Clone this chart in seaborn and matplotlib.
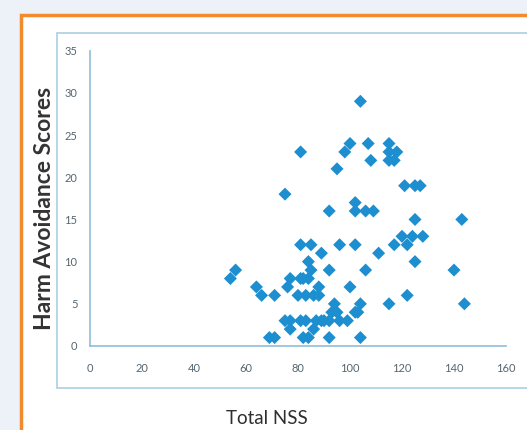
import seaborn as sns
import matplotlib.pyplot as plt
import pandas as pd
from matplotlib.patches import Rectangle

# data
total_nss = [54, 56, 64, 66, 71, 69, 71, 75, 76, 77, 75, 77, 77, 81, 81, 85, 80, 83,
             81, 84, 81, 82, 84, 84, 85, 86, 88, 88, 86, 87, 89, 90, 92, 89, 92, 92,
             92, 93, 94, 95, 96, 95, 96, 98, 100, 99, 100, 104, 107, 108, 102, 102,
             106, 109, 102, 111, 106, 104, 103, 102, 104, 115, 115, 115, 118, 115,
             117, 121, 125, 127, 125, 120, 124, 128, 117, 122, 125, 122, 140, 143,
             144, 82, 83]
harm_avoid = [8, 9, 7, 6, 6, 1, 1, 18, 7, 8, 3, 3, 2, 23, 12, 12, 6, 6,
              8, 8, 3, 1, 1, 10, 9, 6, 7, 6, 2, 3, 3, 3, 1, 11, 9, 16,
              3, 4, 5, 4, 3, 21, 12, 23, 24, 3, 7, 29, 24, 22, 17, 16,
              16, 16, 12, 11, 9, 5, 4, 4, 1, 5, 24, 23, 23, 22,
              22, 19, 19, 19, 15, 13, 13, 13, 12, 12, 10, 6, 9, 15,
              5, 8, 3]
x_ticks = [0, 20, 40, 60, 80, 100, 120, 140, 160]
y_ticks = [0, 5, 10, 15, 20, 25, 30, 35]

df = pd.DataFrame({"Total NSS": total_nss, "Harm Avoidance Scores": harm_avoid})

sns.set_style("white")
plt.rcParams["font.family"] = ["Lato", "DejaVu Sans"]

W, H = 527, 430
fig = plt.figure(figsize=(W / 100, H / 100), dpi=100, facecolor="#edf1f8")

# orange frame, white panel, light blue chart border
fig.patches.append(Rectangle((21 / W, -0.1), 1.2, 1 - 15 / H + 0.1, transform=fig.transFigure,
                             facecolor="white", edgecolor="#f28a2e", linewidth=2.5, zorder=-2))
fig.patches.append(Rectangle((57 / W, 1 - 388 / H), 1.2, (388 - 33) / H, transform=fig.transFigure,
                             facecolor="white", edgecolor="#a9cfe2", linewidth=1.2, zorder=-1))

ax = fig.add_axes([90 / W, 1 - 346 / H, (506 - 90) / W, (346 - 50.7) / H])
ax.set_zorder(2)
ax.set_facecolor("none")
sns.scatterplot(x="Total NSS", y="Harm Avoidance Scores", data=df, ax=ax,
                marker="D", s=44, color="#1d8ecf", edgecolor="none", clip_on=False, zorder=3)

ax.set_xlim(0, 160)
ax.set_ylim(0, 35)
ax.set_xticks(x_ticks)
ax.set_yticks(y_ticks)
for side in ["top", "right"]:
    ax.spines[side].set_visible(False)
for side in ["left", "bottom"]:
    ax.spines[side].set_color("#8fbdd6")
    ax.spines[side].set_linewidth(1.2)
ax.tick_params(axis="both", direction="out", length=3, width=1, color="#8fbdd6",
               labelsize=8, labelcolor="#56656f")
ax.tick_params(axis="x", pad=9)
ax.tick_params(axis="y", pad=6)

ax.set_xlabel("")
ax.set_ylabel("")
fig.text(267 / W, 1 - 418 / H, "Total NSS", ha="center", va="center",
         fontsize=13.5, color="#2e2e2e")
fig.text(45 / W, 1 - 208 / H, "Harm Avoidance Scores", ha="center", va="center",
         rotation=90, fontsize=16.5, fontweight="bold", color="#333333")

plt.savefig("out.png", dpi=100, facecolor=fig.get_facecolor())
